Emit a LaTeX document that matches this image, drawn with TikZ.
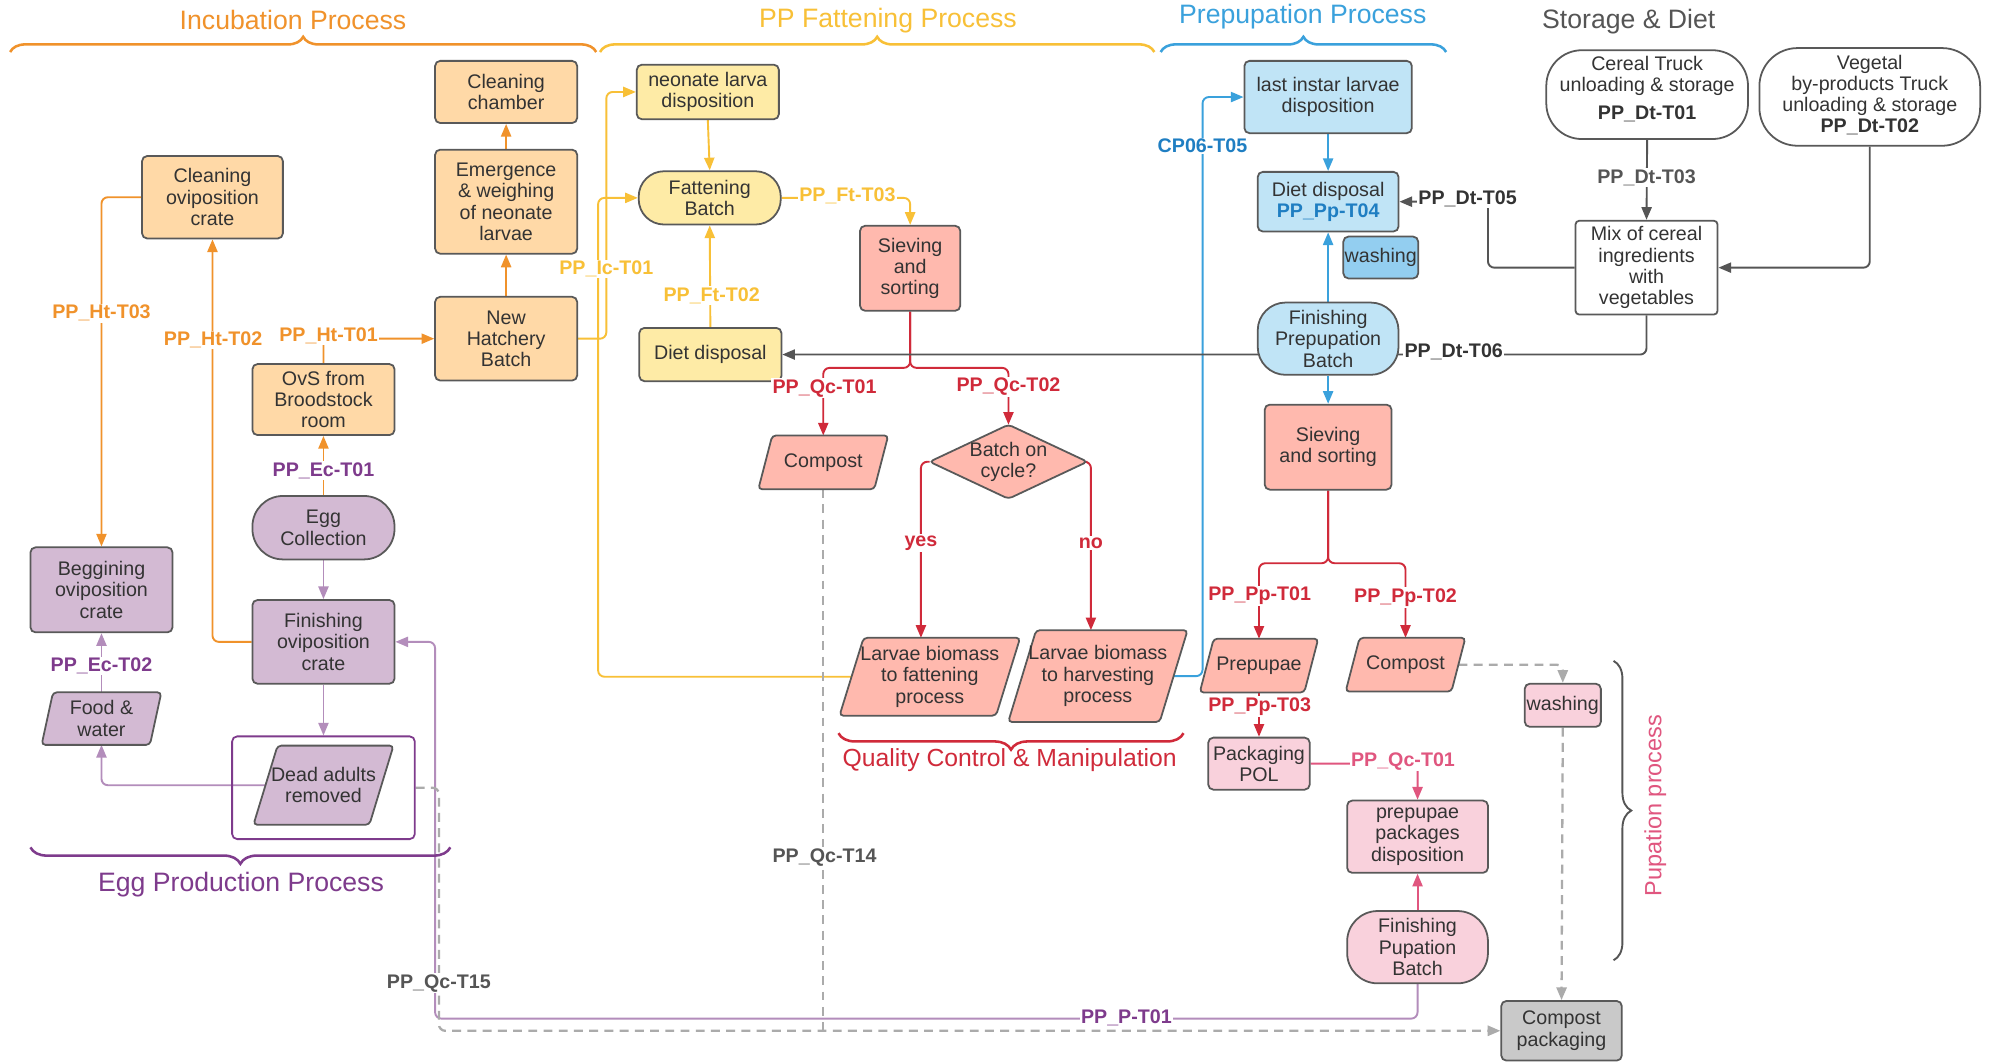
\documentclass[tikz,border=0pt]{standalone}
\usepackage{fontspec}
\setmainfont{Liberation Sans}
\usetikzlibrary{arrows.meta,calc,decorations.pathreplacing}
\pgfdeclarelayer{bg}
\pgfdeclarelayer{shp}
\pgfsetlayers{bg,shp,main}
\definecolor{bd}{HTML}{595959}
\definecolor{txt}{HTML}{333333}
\definecolor{orl}{HTML}{F0922B}
\definecolor{orf}{HTML}{FFD9A7}
\definecolor{yel}{HTML}{F8C037}
\definecolor{yef}{HTML}{FEEBA6}
\definecolor{redl}{HTML}{D02A3A}
\definecolor{redf}{HTML}{FFB9AE}
\definecolor{purl}{HTML}{B38DBB}
\definecolor{purt}{HTML}{7E3B8C}
\definecolor{purf}{HTML}{D3BAD3}
\definecolor{blul}{HTML}{3AA1DC}
\definecolor{blut}{HTML}{1F7EC2}
\definecolor{bluf}{HTML}{C0E4F6}
\definecolor{blud}{HTML}{93CEF0}
\definecolor{pinl}{HTML}{E0567F}
\definecolor{pinf}{HTML}{F9D1DC}
\definecolor{gryl}{HTML}{555555}
\definecolor{dshc}{HTML}{ABABAB}
\definecolor{cpf}{HTML}{C9C9C9}
\newcommand\boxfont{\fontsize{15.5}{16.8}\selectfont}
\newcommand\lblfont{\fontsize{15.5}{16.8}\selectfont\bfseries}
\newcommand\headfont{\fontsize{21}{24}\selectfont}
\tikzset{
 box/.style={draw=bd, line width=1.4pt, rounded corners=4pt, inner sep=1pt, align=center, text=txt, font=\boxfont},
 bare/.style={inner sep=1pt, align=center, text=txt, font=\boxfont},
 lbl/.style={fill=white, inner sep=1pt, font=\lblfont},
 conn/.style={line width=1.5pt, rounded corners=5pt},
 arr/.style={-{Triangle[length=10pt,width=8pt]}},
 dashln/.style={draw=dshc, dash pattern=on 7pt off 5pt, line width=1.8pt},
 hd/.style={font=\headfont},
 brc/.style={decorate, decoration={brace, amplitude=12pt}, line width=2pt},
 pshape/.style={draw=bd, line width=1.4pt, rounded corners=3pt},
}
\newcommand\pgram[3]{\draw[pshape, fill=#3] ($(#1.south west)+(-#2/2,0)$) -- ($(#1.south east)+(-#2/2,0)$) -- ($(#1.north east)+(#2/2,0)$) -- ($(#1.north west)+(#2/2,0)$) -- cycle;}
\begin{document}
\begin{tikzpicture}[x=1pt,y=-1pt]
\useasboundingbox (0,0) rectangle (1568,837);
% ---------- nodes: incubation
\node[box, fill=orf, minimum width=112pt, minimum height=49pt] (cch) at (399,72.5) {Cleaning\\chamber};
\node[box, fill=orf, minimum width=112pt, minimum height=82pt] (emer) at (399,159) {Emergence\\\& weighing\\of neonate\\larvae};
\node[box, fill=orf, minimum width=112pt, minimum height=66pt] (nhb) at (399,267) {New\\Hatchery\\Batch};
\node[box, fill=orf, minimum width=111pt, minimum height=65pt] (coc) at (167.5,155.5) {Cleaning\\oviposition\\crate};
\node[box, fill=orf, minimum width=112pt, minimum height=56pt] (ovs) at (255,315) {OvS from\\Broodstock\\room};
% ---------- egg production
\node[box, fill=purf, rounded corners=24pt, minimum width=112pt, minimum height=50pt] (egg) at (255,416) {Egg\\Collection};
\node[box, fill=purf, minimum width=112pt, minimum height=66pt] (foc) at (255,506) {Finishing\\oviposition\\crate};
\node[box, fill=purf, minimum width=112pt, minimum height=67pt] (boc) at (80,465) {Beggining\\oviposition\\crate};
\node[bare, minimum width=85pt, minimum height=41pt] (food) at (80,566.5) {Food \&\\water};
\node[draw=purt, line width=1.4pt, rounded corners=4pt, minimum width=144pt, minimum height=81pt] (deadbox) at (255,621) {};
\node[bare, minimum width=91pt, minimum height=62pt] (dead) at (255,619) {Dead adults\\removed};
% ---------- fattening
\node[box, fill=yef, minimum width=112pt, minimum height=43pt] (neo) at (558,72.5) {neonate larva\\disposition};
\node[box, fill=yef, rounded corners=20pt, minimum width=112pt, minimum height=42pt] (fb) at (559.5,156) {Fattening\\Batch};
\node[box, fill=yef, minimum width=112pt, minimum height=42pt] (dd) at (560,279.5) {Diet disposal};
\node[box, fill=redf, minimum width=79pt, minimum height=67pt] (sv1) at (717.5,211.5) {Sieving\\and\\sorting};
% ---------- quality control
\node[bare, minimum width=91pt, minimum height=42pt] (cp1) at (649,364.5) {Compost};
\node[bare, minimum width=124pt, minimum height=58pt] (bat) at (795,364) {Batch on\\cycle?};
\node[bare, minimum width=123pt, minimum height=61pt] (lbf) at (733,533.5) {Larvae biomass\\to fattening\\process};
\node[bare, minimum width=119pt, minimum height=72pt] (lbh) at (865.5,533) {Larvae biomass\\to harvesting\\process};
% ---------- prepupation
\node[box, fill=bluf, minimum width=132pt, minimum height=57pt] (lid) at (1047,76.5) {last instar larvae\\disposition};
\node[box, fill=bluf, minimum width=111pt, minimum height=47pt] (dd2) at (1047,159) {Diet disposal\\\textcolor{blut}{\bfseries PP\_Pp-T04}};
\node[box, fill=blud, minimum width=59pt, minimum height=33pt] (wa1) at (1088.5,203) {washing};
\node[box, fill=bluf, rounded corners=22pt, minimum width=111pt, minimum height=57pt] (fpb) at (1047,267) {Finishing\\Prepupation\\Batch};
\node[box, fill=redf, minimum width=100pt, minimum height=67pt] (sv2) at (1047,352.5) {Sieving\\and sorting};
% ---------- storage
\node[box, fill=white, rounded corners=28pt, minimum width=159pt, minimum height=70pt] (cer) at (1298.5,74.6) {Cereal Truck\\unloading \& storage\\[5pt]\textbf{PP\_Dt-T01}\\[-6pt]\mbox{}};
\node[box, fill=white, rounded corners=30pt, minimum width=174pt, minimum height=77pt] (veg) at (1474,76.4) {Vegetal\\by-products Truck\\unloading \& storage\\\textbf{PP\_Dt-T02}\\[-12pt]\mbox{}};
\node[box, fill=white, rounded corners=3pt, minimum width=112pt, minimum height=74pt] (mix) at (1298,211) {Mix of cereal\\ingredients\\with\\vegetables};
% ---------- pupation
\node[bare, minimum width=82pt, minimum height=42pt] (prp) at (992.5,524.7) {Prepupae};
\node[bare, minimum width=83pt, minimum height=42pt] (cp2) at (1108,524) {Compost};
\node[box, fill=pinf, minimum width=80pt, minimum height=41pt] (pol) at (992.5,602) {Packaging\\POL};
\node[box, fill=pinf, minimum width=111pt, minimum height=57pt] (ppd) at (1117.5,659.6) {prepupae\\packages\\disposition};
\node[box, fill=pinf, rounded corners=24pt, minimum width=111pt, minimum height=57pt] (fpu) at (1117.5,746.7) {Finishing\\Pupation\\Batch};
\node[box, fill=pinf, minimum width=60pt, minimum height=34pt] (wa2) at (1232,556) {washing};
\node[box, fill=cpf, minimum width=95pt, minimum height=47pt] (cpk) at (1231,812.6) {Compost\\packaging};
% ---------- shapes
\begin{pgfonlayer}{shp}
\pgram{food}{9}{purf}
\pgram{dead}{19}{purf}
\pgram{cp1}{11}{redf}
\pgram{lbf}{19}{redf}
\pgram{lbh}{22}{redf}
\pgram{prp}{11}{redf}
\pgram{cp2}{11}{redf}
\draw[pshape, fill=redf] (bat.north) -- (bat.east) -- (bat.south) -- (bat.west) -- cycle;
\end{pgfonlayer}
% ---------- connectors
\begin{pgfonlayer}{bg}
\fill[white] (0,0) rectangle (1568,837);
\draw[conn, orl, arr] (emer.north) -- (cch.south);
\draw[conn, orl, arr] (nhb.north) -- (emer.south);
\draw[conn, orl, arr] (ovs.north) |- (nhb.west);
\draw[conn, orl, arr] (foc.west) -| (coc.south);
\draw[conn, orl, arr] (coc.west) -| (boc.north);
\draw[conn, orl, arr] (egg.north) -- (ovs.south);
\draw[conn, purl, arr] (egg.south) -- (foc.north);
\draw[conn, purl, arr] (foc.south) -- (deadbox.north);
\draw[conn, purl, arr] (food.north) -- (boc.south);
\draw[conn, purl, arr] (dead.west) -| (food.south);
\draw[conn, purl, arr] (fpu.south) -- (1117.5,803) -- (343,803) -- (343,506) -- (foc.east);
\draw[conn, yel, arr] (neo.south) -- (fb.north);
\draw[conn, yel, arr] (dd.north) -- (fb.south);
\draw[conn, yel, arr] (fb.east) -| (sv1.north);
\draw[conn, yel, arr] (nhb.east) -- (478,267) |- (neo.west);
\draw[conn, yel, arr] (lbf.west) -- (471.5,533.5) |- (fb.west);
\coordinate (qj) at (717.5,290);
\draw[conn, redl, arr] (sv1.south) -- (qj) -| (cp1.north);
\draw[conn, redl, arr] (sv1.south) -- (qj) -| (bat.north);
\draw[conn, redl, arr] (bat.west) -| ($(lbf.north)+(-7,0)$);
\draw[conn, redl, arr] (bat.east) -| ($(lbh.north)+(-5.5,0)$);
\coordinate (pj) at (1047,444);
\draw[conn, redl, arr] (sv2.south) -- (pj) -| (prp.north);
\draw[conn, redl, arr] (sv2.south) -- (pj) -| (cp2.north);
\draw[conn, redl, arr] (prp.south) -- (pol.north);
\draw[conn, blul, arr] (lbh.east) -- (948,533) |- (lid.west);
\draw[conn, blul, arr] (lid.south) -- (dd2.north);
\draw[conn, blul, arr] (fpb.north) -- (dd2.south);
\draw[conn, blul, arr] (fpb.south) -- (sv2.north);
\draw[conn, gryl, arr] (cer.south) -- (mix.north);
\draw[conn, gryl, arr] (veg.south) |- (mix.east);
\draw[conn, gryl, arr] (mix.west) -- (1173,211) |- (dd2.east);
\draw[conn, gryl, arr] (mix.south) -- (1298,279.5) -- (dd.east);
\draw[conn, pinl, arr] (fpu.north) -- (ppd.south);
\draw[conn, pinl, arr] (pol.east) -| (ppd.north);
\draw[conn, dashln, arr] (cp2.east) -| (wa2.north);
\draw[conn, dashln, arr] (wa2.south) -- (cpk.north);
\draw[conn, dashln, arr] (deadbox.east) -- (346,621) |- (cpk.west);
\draw[conn, dashln] (cp1.south) -- (649,812.6);
\end{pgfonlayer}
% ---------- labels
\node[lbl, text=orl] (t1) at (259,265) {PP\_Ht-T01};
\node[lbl, text=orl] (t2) at (168,268) {PP\_Ht-T02};
\node[lbl, text=orl] (t3) at (80,247) {PP\_Ht-T03};
\node[lbl, text=purt] (t4) at (255,371) {PP\_Ec-T01};
\node[lbl, text=purt] (t5) at (80,525) {PP\_Ec-T02};
\node[lbl, text=yel] (t6) at (478,212) {PP\_Ic-T01};
\node[lbl, text=yel] (t7) at (561,233) {PP\_Ft-T02};
\node[lbl, text=yel] (t8) at (668,154) {PP\_Ft-T03};
\node[lbl, text=redl] (t9) at (650,306) {PP\_Qc-T01};
\node[lbl, text=redl] (t10) at (795,305) {PP\_Qc-T02};
\node[lbl, text=redl] (t11) at (726,428) {yes};
\node[lbl, text=redl] (t12) at (860,428) {no};
\node[lbl, text=blut] (t13) at (948,115) {CP06-T05};
\node[lbl, text=gryl] (t14) at (1298,140) {PP\_Dt-T03};
\node[lbl, text=txt] (t15) at (1157,157) {PP\_Dt-T05};
\node[lbl, text=txt] (t16) at (1146,277.6) {PP\_Dt-T06};
\node[lbl, text=redl] (t17) at (993,469.6) {PP\_Pp-T01};
\node[lbl, text=redl] (t18) at (1108,471) {PP\_Pp-T02};
\node[lbl, text=redl] (t19) at (993,557) {PP\_Pp-T03};
\node[lbl, text=pinl] (t20) at (1106,600) {PP\_Qc-T01};
\node[lbl, text=gryl] (t21) at (650,676) {PP\_Qc-T14};
\node[lbl, text=gryl] (t22) at (346,775) {PP\_Qc-T15};
\node[lbl, text=purt] (t23) at (888,802) {PP\_P-T01};
% ---------- headers and braces
\node[hd, text=orl] (h1) at (231,16) {Incubation Process};
\node[hd, text=yel] (h2) at (700,16) {PP Fattening Process};
\node[hd, text=blul] (h3) at (1027,13) {Prepupation Process};
\node[hd, text=gryl] (h4) at (1284,17) {Storage \& Diet};
\node[hd, text=purt] (h5) at (190,697) {Egg Production Process};
\node[hd, text=redl, font=\fontsize{19.5}{22}\selectfont] (h6) at (796,599) {Quality Control \& Manipulation};
\node[hd, text=pinl, rotate=90, font=\fontsize{18.5}{22}\selectfont] (h7) at (1305,635) {Pupation process};
\draw[brc, orl] (8,41) -- (470,41);
\draw[brc, yel] (473,41) -- (910,41);
\draw[brc, blul] (915,41) -- (1140,41);
\draw[brc, purt, decoration={brace, amplitude=13pt}] (355,668) -- (24,668);
\draw[brc, redl, decoration={brace, amplitude=13pt}] (933,578) -- (661,578);
\draw[brc, gryl, line width=1.5pt, decoration={brace, amplitude=14pt}] (1272,521) -- (1272,757);
\end{tikzpicture}
\end{document}
